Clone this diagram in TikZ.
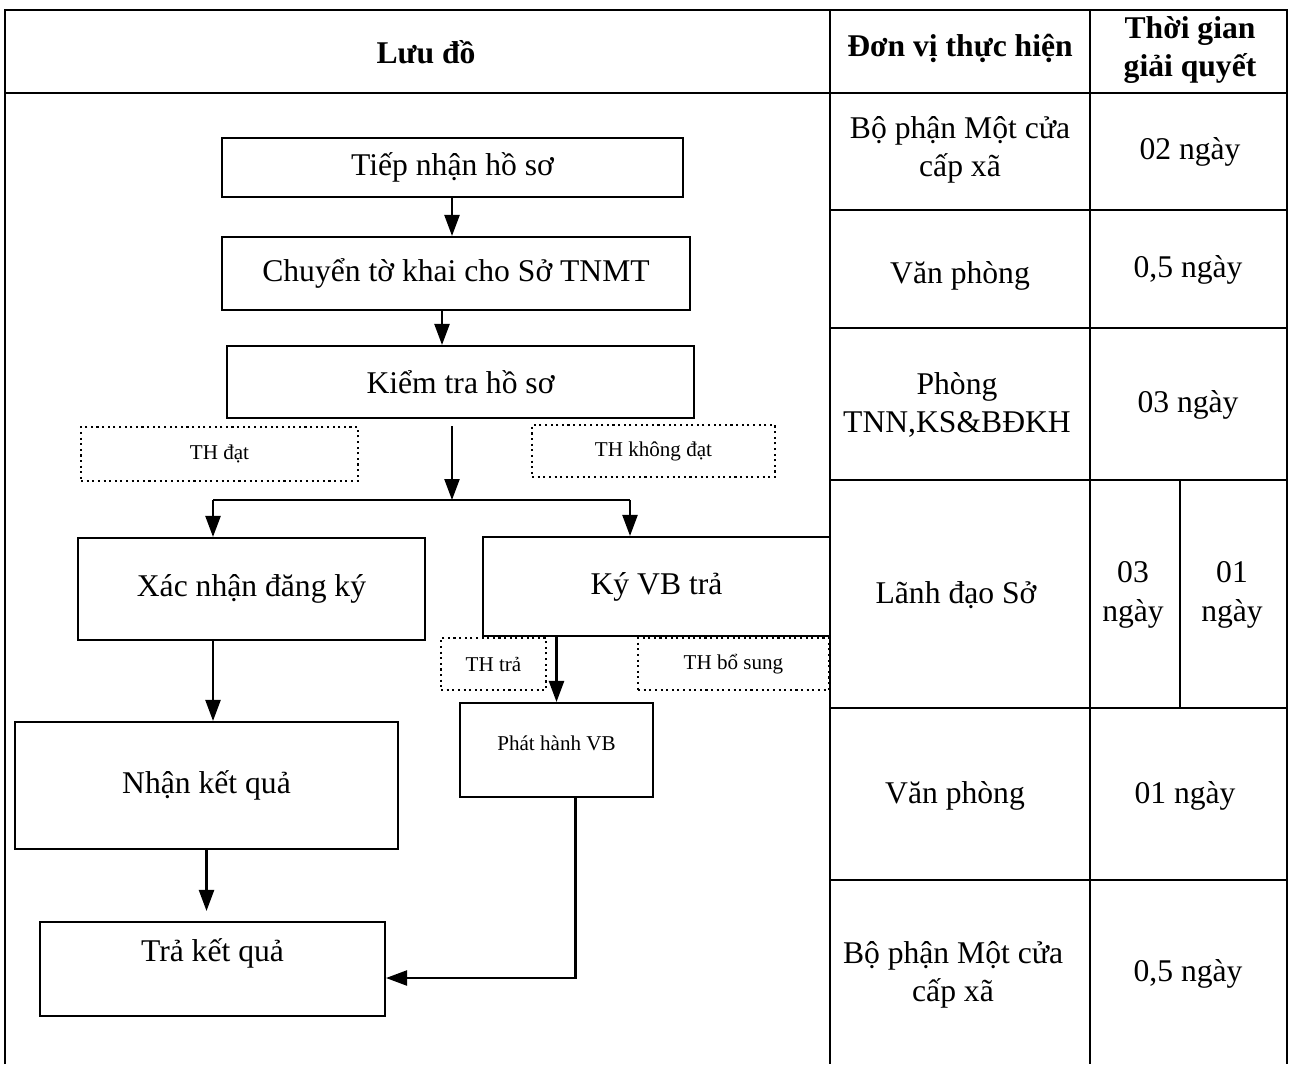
\documentclass[tikz,border=0pt]{standalone}
\usepackage{fontspec}
\setmainfont{Liberation Serif}
\usetikzlibrary{arrows.meta}

\tikzset{
  box/.style={draw, line width=1.2pt, font=\fontsize{18}{22}\selectfont, align=center, inner sep=0pt},
  thbox/.style={draw, dotted, line width=1.2pt, font=\fontsize{12}{14}\selectfont, inner sep=0pt},
  cell/.style={font=\fontsize{18}{22}\selectfont, align=center},
  head/.style={font=\fontsize{18}{22}\selectfont\bfseries, align=center},
  arr/.style={line width=1.3pt, -{Triangle[length=0.42cm,width=0.3cm]}},
  rule/.style={line width=1pt}
}

\begin{document}
\begin{tikzpicture}[x=0.02cm, y=-0.02cm]
            \useasboundingbox (0,0) rectangle (1293,1064);

            % Draw table frame
            \draw[rule] (5,1064) -- (5,10) -- (1287,10) -- (1287,1064);
            \draw[rule] (5,93) -- (1287,93);
            \draw[rule] (830,10) -- (830,1064);
            \draw[rule] (1090,10) -- (1090,1064);
            \foreach \y in {210,328,480,708,880}
                \draw[rule] (830,\y) -- (1287,\y);
            \draw[rule] (1180,480) -- (1180,708);

            % Header
            \node[head] (hluu) at (426,52) {Lưu đồ};
            \node[head] (hdonvi) at (960,48) {Đơn vị thực hiện};
            \node[head] (hthoigian) at (1190,50) {Thời gian\\giải quyết};

            % Units and times
            \node[cell] (dv1) at (960,150) {Bộ phận Một cửa\\cấp xã};
            \node[cell] (tg1) at (1190,152) {02 ngày};
            \node[cell] (dv2) at (960,276) {Văn phòng};
            \node[cell] (tg2) at (1188,270) {0,5 ngày};
            \node[cell] (dv3) at (957,405) {Phòng\\TNN,KS\&BĐKH};
            \node[cell] (tg3) at (1188,405) {03 ngày};
            \node[cell] (dv4) at (956,595) {Lãnh đạo Sở};
            \node[cell] (tg4a) at (1133,595) {03\\ngày};
            \node[cell] (tg4b) at (1232,595) {01\\ngày};
            \node[cell] (dv5) at (955,796) {Văn phòng};
            \node[cell] (tg5) at (1185,796) {01 ngày};
            \node[cell] (dv6) at (953,975) {Bộ phận Một cửa\\cấp xã};
            \node[cell] (tg6) at (1188,974) {0,5 ngày};

            % Flow boxes
            \node[box, minimum width=9.22cm, minimum height=1.18cm] (tiep) at (452.5,167.5) {Tiếp nhận hồ sơ};
            \node[box, minimum width=9.36cm, minimum height=1.46cm] (chuyen) at (456,273.5) {Chuyển tờ khai cho Sở TNMT};
            \node[box, minimum width=9.34cm, minimum height=1.44cm] (kiemtra) at (460.5,382) {Kiểm tra hồ sơ};
            \node[thbox, minimum width=5.54cm, minimum height=1.08cm] (thdat) at (219.5,454) {TH đạt};
            \node[thbox, minimum width=4.86cm, minimum height=1.04cm] (thkhong) at (653.5,451) {TH không đạt};
            \node[box, minimum width=6.94cm, minimum height=2.04cm] (xacnhan) at (251.5,589) {Xác nhận đăng ký};
            \node[box, minimum width=6.94cm, minimum height=1.98cm] (kyvb) at (656.5,586.5) {Ký VB trả};
            \node[thbox, minimum width=2.1cm, minimum height=1.04cm] (thtra) at (493.5,664) {TH trả};
            \node[thbox, minimum width=3.82cm, minimum height=1.04cm] (thbs) at (733.5,664) {TH bổ sung};
            \node[box, font=\fontsize{12}{14}\selectfont, text depth=8pt, minimum width=3.86cm, minimum height=1.88cm] (phathanh) at (556.5,750) {Phát hành VB};
            \node[box, minimum width=7.66cm, minimum height=2.54cm] (nhan) at (206.5,785.5) {Nhận kết quả};
            \node[box, text depth=22pt, minimum width=6.9cm, minimum height=1.88cm] (tra) at (212.5,969) {Trả kết quả};

            % Connectors
            \coordinate (split) at (452,500);
            \coordinate (splitL) at (213,500);
            \coordinate (splitR) at (630,500);
            \draw[arr] (tiep.south -| split) -- (split |- chuyen.north);
            \draw[arr] ([xshift=-0.28cm]chuyen.south) -- ([xshift=-0.28cm]chuyen.south |- kiemtra.north);
            \draw[arr] ([yshift=-0.14cm]kiemtra.south -| split) -- (split);
            \draw[line width=1.3pt] (splitL) -- (splitR);
            \draw[arr] (splitL) -- (splitL |- xacnhan.north);
            \draw[arr] (splitR) -- (splitR |- kyvb.north);
            \draw[arr] (kyvb.south -| phathanh.north) -- (phathanh.north);
            \draw[arr] (xacnhan.south -| splitL) -- (splitL |- nhan.north);
            \draw[arr, shorten >=0.2cm] (nhan.south) -- (nhan.south |- tra.north);
            \draw[arr] ([xshift=0.38cm]phathanh.south) |- ([yshift=-0.18cm]tra.east);
        \end{tikzpicture}
\end{document}
